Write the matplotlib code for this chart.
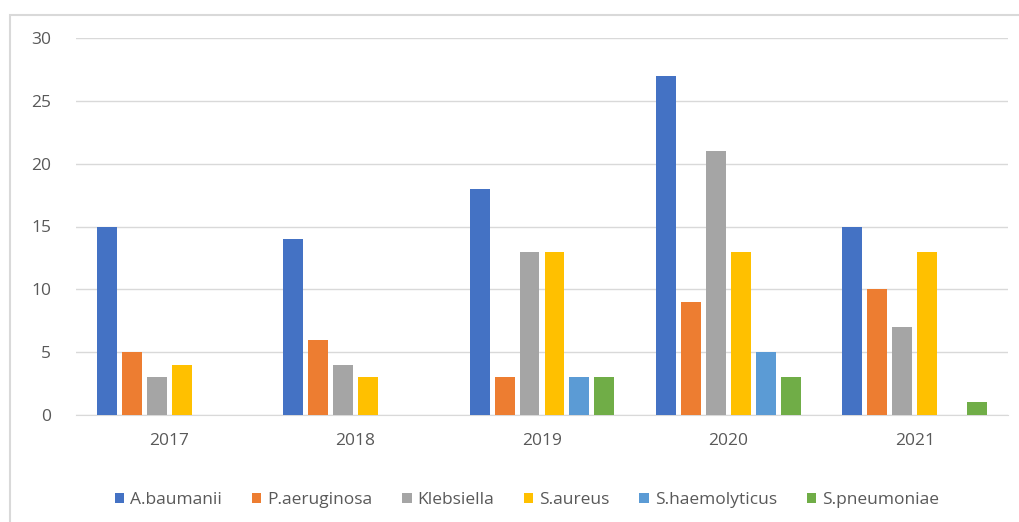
import matplotlib.pyplot as plt
import numpy as np
from matplotlib.patches import Rectangle

years = ["2017", "2018", "2019", "2020", "2021"]
series = ["A.baumanii", "P.aeruginosa", "Klebsiella", "S.aureus", "S.haemolyticus", "S.pneumoniae"]
a_baumanii = [15, 14, 18, 27, 15]
p_aeruginosa = [5, 6, 3, 9, 10]
klebsiella = [3, 4, 13, 21, 7]
s_aureus = [4, 3, 13, 13, 13]
s_haemolyticus = [0, 0, 3, 5, 0]
s_pneumoniae = [0, 0, 3, 3, 1]
values = [a_baumanii, p_aeruginosa, klebsiella, s_aureus, s_haemolyticus, s_pneumoniae]
colors = ["#4472C4", "#ED7D31", "#A5A5A5", "#FFC000", "#5B9BD5", "#70AD47"]

plt.rcParams['font.family'] = ['Open Sans', 'DejaVu Sans']
text_color = "#595959"
grid_color = "#D9D9D9"

fig = plt.figure(figsize=(10.19, 5.22), dpi=100)
ax = fig.add_axes([76 / 1019, 1 - 415 / 522, 932 / 1019, 377 / 522])

# chart frame (only left and top edges are inside the canvas)
fig.patches.append(Rectangle((10 / 1019, -0.1), 1.2, 1 - 15 / 522 + 0.1,
                             transform=fig.transFigure, fill=False,
                             edgecolor=grid_color, linewidth=1.5))

x = np.arange(len(years))
width = 0.107
pitch = 0.134
for i, (name, vals, c) in enumerate(zip(series, values, colors)):
    offset = (i - 2.5) * pitch
    ax.bar(x + offset, vals, width, color=c, label=name, zorder=3)

ax.set_xlim(-0.5, len(years) - 0.5)
ax.set_ylim(0, 30)
ax.set_yticks(range(0, 31, 5))
ax.set_xticks(x)
ax.set_xticklabels(years)
ax.yaxis.grid(True, color=grid_color, linewidth=1, zorder=0)
for s in ["top", "right", "left"]:
    ax.spines[s].set_visible(False)
ax.spines["bottom"].set_color(grid_color)
ax.tick_params(axis="both", length=0, colors=text_color, labelsize=12.5)
ax.tick_params(axis="x", pad=13)
ax.tick_params(axis="y", pad=18)

fig.legend(loc="center", bbox_to_anchor=(527 / 1019, 1 - 500 / 522), ncol=6,
           frameon=False, fontsize=12.5, labelcolor=text_color,
           handlelength=0.55, handleheight=0.55, handletextpad=0.35, columnspacing=1.7)

plt.savefig("out.png", dpi=100)
